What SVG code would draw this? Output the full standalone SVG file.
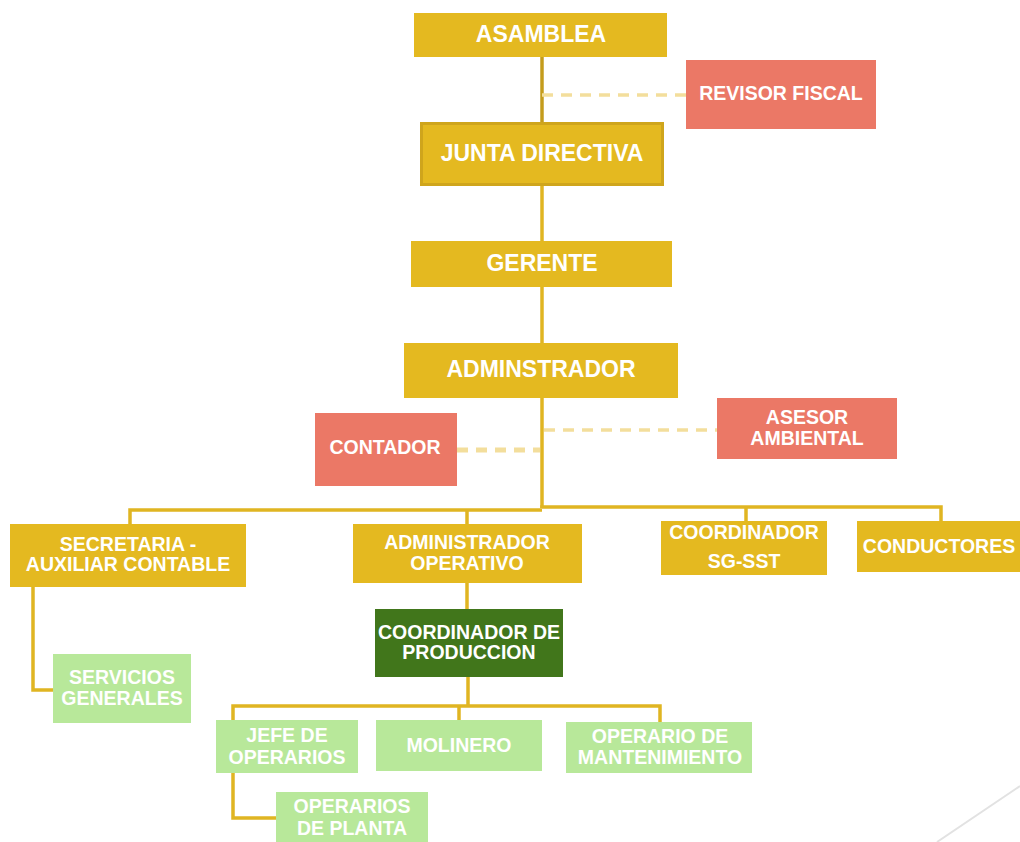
<svg xmlns="http://www.w3.org/2000/svg" width="1020" height="842" viewBox="0 0 1020 842">
<style>
.gold{fill:#E4B920}
.red{fill:#EB7866}
.lg{fill:#B8E89A}
.dg{fill:#41761B}
text{font-family:"Liberation Sans",Arial,sans-serif;font-weight:bold;fill:#FFFFFF;text-anchor:middle;dominant-baseline:central}
.big{font-size:23px}
.sm{font-size:19.5px}
.ln{fill:none;stroke:#E0B522;stroke-width:3.5}
.dash{fill:none;stroke:#F3DE9C;stroke-width:3.5;stroke-dasharray:11 8}
</style>
<rect width="1020" height="842" fill="#FFFFFF"/>
<line x1="937" y1="842" x2="1020" y2="786" stroke="#E2E2E2" stroke-width="2"/>
<g id="connectors">
<line x1="542" y1="57" x2="542" y2="122" stroke="#C49C1C" stroke-width="3.5"/>
<line class="dash" x1="542" y1="95" x2="686" y2="95"/>
<line class="ln" x1="542" y1="186" x2="542" y2="241"/>
<line class="ln" x1="542" y1="287" x2="542" y2="343"/>
<polyline class="ln" points="542,398 542,508"/>
<line class="dash" x1="457" y1="450" x2="540" y2="450" style="stroke-width:5"/>
<line class="dash" x1="544" y1="430" x2="717" y2="430"/>
<polyline class="ln" points="130,524 130,510 542,510"/>
<line class="ln" x1="467" y1="510" x2="467" y2="524"/>
<polyline class="ln" points="542,508 542,507 941,507 941,521"/>
<line class="ln" x1="746" y1="507" x2="746" y2="521"/>
<polyline class="ln" points="33,587 33,690 53,690"/>
<line class="ln" x1="467" y1="583" x2="467" y2="609"/>
<polyline class="ln" points="468,677 468,706"/>
<polyline class="ln" points="233,720 233,706 660,706 660,722"/>
<line class="ln" x1="459" y1="706" x2="459" y2="720"/>
<polyline class="ln" points="233,773 233,818 276,818"/>
</g>
<g id="asamblea"><rect class="gold" x="414" y="13" width="253" height="44"/><text class="big" x="541" y="34">ASAMBLEA</text></g>
<g id="revisor"><rect class="red" x="686" y="60" width="190" height="69"/><text class="sm" x="781" y="93">REVISOR FISCAL</text></g>
<g id="junta"><rect class="gold" x="421.5" y="123.5" width="241" height="61" stroke="#CFA51C" stroke-width="3"/><text class="big" x="542" y="153">JUNTA DIRECTIVA</text></g>
<g id="gerente"><rect class="gold" x="411" y="241" width="261" height="46"/><text class="big" x="542" y="263">GERENTE</text></g>
<g id="adminstrador"><rect class="gold" x="404" y="343" width="274" height="55"/><text class="big" x="541" y="369">ADMINSTRADOR</text></g>
<g id="contador"><rect class="red" x="315" y="413" width="142" height="73"/><text class="sm" x="385" y="447">CONTADOR</text></g>
<g id="asesor"><rect class="red" x="717" y="398" width="180" height="61"/><text class="sm" x="807" y="417">ASESOR</text><text class="sm" x="807" y="438">AMBIENTAL</text></g>
<g id="secretaria"><rect class="gold" x="10" y="524" width="236" height="63"/><text class="sm" x="128" y="544">SECRETARIA -</text><text class="sm" x="128" y="564">AUXILIAR CONTABLE</text></g>
<g id="admin-operativo"><rect class="gold" x="353" y="524" width="229" height="59"/><text class="sm" x="467" y="542">ADMINISTRADOR</text><text class="sm" x="467" y="563">OPERATIVO</text></g>
<g id="coord-sgsst"><rect class="gold" x="661" y="521" width="166" height="54"/><text class="sm" x="744" y="532">COORDINADOR</text><text class="sm" x="744" y="561">SG-SST</text></g>
<g id="conductores"><rect class="gold" x="857" y="521" width="163" height="51"/><text class="sm" x="939" y="546">CONDUCTORES</text></g>
<g id="servicios"><rect class="lg" x="53" y="654" width="138" height="69"/><text class="sm" x="122" y="677">SERVICIOS</text><text class="sm" x="122" y="698">GENERALES</text></g>
<g id="coord-produccion"><rect class="dg" x="375" y="609" width="188" height="68"/><text class="sm" x="469" y="632">COORDINADOR DE</text><text class="sm" x="469" y="652">PRODUCCION</text></g>
<g id="jefe"><rect class="lg" x="216" y="720" width="142" height="53"/><text class="sm" x="287" y="735">JEFE DE</text><text class="sm" x="287" y="757">OPERARIOS</text></g>
<g id="molinero"><rect class="lg" x="376" y="720" width="166" height="51"/><text class="sm" x="459" y="745">MOLINERO</text></g>
<g id="mantenimiento"><rect class="lg" x="566" y="722" width="186" height="51"/><text class="sm" x="660" y="736">OPERARIO DE</text><text class="sm" x="660" y="757">MANTENIMIENTO</text></g>
<g id="operarios-planta"><rect class="lg" x="276" y="792" width="152" height="52"/><text class="sm" x="352" y="806">OPERARIOS</text><text class="sm" x="352" y="828">DE PLANTA</text></g>
</svg>
